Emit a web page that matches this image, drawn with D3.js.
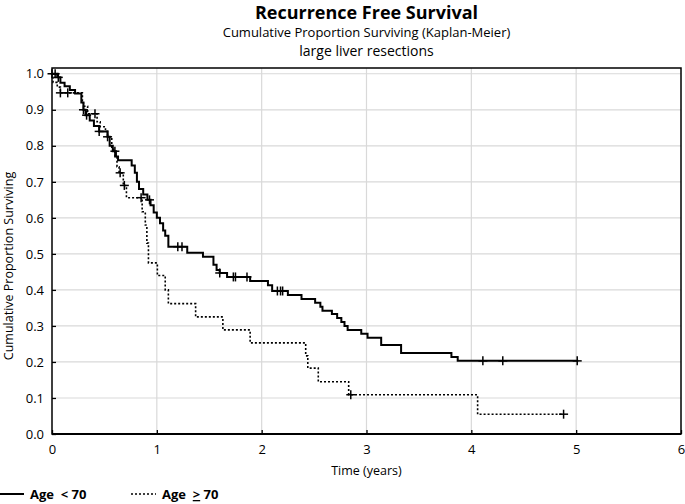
<!DOCTYPE html>
<html>
<head>
<meta charset="utf-8">
<script src="https://d3js.org/d3.v7.min.js"></script>
<style>
  body { margin: 0; background: #fff; }
  text { font-family: "Open Sans", "Noto Sans", sans-serif; fill: #000; }
</style>
</head>
<body>
<div id="chart"></div>
<script>
// Age < 70 : event times (years) and survival after each step
var youngTimes = [0, 0.05, 0.08, 0.12, 0.17, 0.22, 0.28, 0.30, 0.32, 0.36, 0.40, 0.45, 0.53, 0.55, 0.58, 0.61, 0.63,
  0.76, 0.79, 0.81, 0.83, 0.87, 0.91, 0.94, 0.97, 1.00, 1.03, 1.06, 1.08, 1.11, 1.29, 1.44, 1.54, 1.57, 1.60, 1.67,
  1.89, 2.06, 2.10, 2.25, 2.38, 2.51, 2.56, 2.58, 2.67, 2.72, 2.76, 2.79, 2.82, 2.95, 3.01, 3.14, 3.33, 3.81, 3.87, 5.02];
var youngSurv = [1.0, 0.99, 0.975, 0.965, 0.955, 0.945, 0.92, 0.90, 0.885, 0.87, 0.855, 0.84, 0.825, 0.80, 0.785, 0.77, 0.76,
  0.745, 0.725, 0.70, 0.68, 0.665, 0.65, 0.635, 0.615, 0.60, 0.585, 0.565, 0.55, 0.52, 0.503, 0.492, 0.47, 0.455, 0.447, 0.436,
  0.425, 0.413, 0.397, 0.386, 0.375, 0.364, 0.353, 0.342, 0.333, 0.322, 0.311, 0.30, 0.289, 0.278, 0.267, 0.247, 0.225, 0.214, 0.203, 0.203];
var youngCensT = [0.03, 0.06, 0.30, 0.33, 0.45, 0.53, 0.60, 0.93, 1.20, 1.24, 1.60, 1.73, 1.75, 1.86, 2.15, 2.18, 2.20, 4.11, 4.30, 5.01];

// Age >= 70
var oldTimes = [0, 0.01, 0.05, 0.08, 0.29, 0.30, 0.34, 0.43, 0.46, 0.51, 0.53, 0.57, 0.60, 0.62, 0.64, 0.68, 0.71,
  0.86, 0.89, 0.905, 0.92, 1.005, 1.08, 1.11, 1.37, 1.63, 1.89, 2.42, 2.44, 2.54, 2.83, 4.06, 4.88];
var oldSurv = [1.0, 0.976, 0.963, 0.947, 0.925, 0.91, 0.889, 0.867, 0.853, 0.84, 0.825, 0.79, 0.77, 0.742, 0.725, 0.69, 0.656,
  0.617, 0.58, 0.53, 0.475, 0.44, 0.40, 0.362, 0.325, 0.289, 0.253, 0.217, 0.183, 0.145, 0.109, 0.055, 0.055];
var oldCensT = [0.0, 0.08, 0.15, 0.41, 0.65, 0.69, 0.85, 2.85, 4.88];

var xTicks = [0, 1, 2, 3, 4, 5, 6];
var yTicks = [0, 0.1, 0.2, 0.3, 0.4, 0.5, 0.6, 0.7, 0.8, 0.9, 1.0];

var W = 685, H = 504;
var margin = {top: 68, right: 4, bottom: 70, left: 52};
var width = W - margin.left - margin.right;
var height = H - margin.top - margin.bottom;

var svg = d3.select("#chart").append("svg")
    .attr("width", W)
    .attr("height", H);

var g = svg.append("g")
    .attr("transform", "translate(" + margin.left + "," + margin.top + ")");

var x = d3.scaleLinear().domain([0, 6]).range([0, width]);
var y = d3.scaleLinear().domain([0, 1.016]).range([height, 0]);

// grid
g.selectAll(".hgrid").data(yTicks.slice(1)).enter().append("line")
    .attr("x1", 0).attr("x2", width)
    .attr("y1", function(d) { return y(d); }).attr("y2", function(d) { return y(d); })
    .attr("stroke", "#d9d9d9").attr("stroke-width", 1.2);
g.selectAll(".vgrid").data(xTicks.slice(1, -1)).enter().append("line")
    .attr("y1", 0).attr("y2", height)
    .attr("x1", function(d) { return x(d); }).attr("x2", function(d) { return x(d); })
    .attr("stroke", "#d9d9d9").attr("stroke-width", 1.2);

// axes
var xAxis = d3.axisBottom(x).tickValues(xTicks).tickSize(-4).tickPadding(11).tickFormat(d3.format("d"));
var yAxis = d3.axisLeft(y).tickValues(yTicks).tickSize(-4).tickPadding(8).tickFormat(d3.format(".1f"));

var xg = g.append("g").attr("transform", "translate(0," + height + ")").call(xAxis);
var yg = g.append("g").call(yAxis);
[xg, yg].forEach(function(a) {
    a.select(".domain").remove();
    a.selectAll("line").attr("stroke", "#000").attr("stroke-width", 1.3);
    a.selectAll("text").style("font-size", "13px").attr("fill", "#000");
});

// frame
g.append("rect")
    .attr("x", 0).attr("y", 0).attr("width", width).attr("height", height)
    .attr("fill", "none").attr("stroke", "#000").attr("stroke-width", 1.5);
g.append("line")
    .attr("x1", 0).attr("x2", width).attr("y1", height).attr("y2", height)
    .attr("stroke", "#000").attr("stroke-width", 2);

// curves
var line = d3.line()
    .x(function(d) { return x(d[0]); })
    .y(function(d) { return y(d[1]); })
    .curve(d3.curveStepAfter);

var young = d3.zip(youngTimes, youngSurv);
var old = d3.zip(oldTimes, oldSurv);

g.append("path").datum(old)
    .attr("d", line).attr("fill", "none")
    .attr("stroke", "#000").attr("stroke-width", 1.6)
    .attr("stroke-dasharray", "2,2");

g.append("path").datum(young)
    .attr("d", line).attr("fill", "none")
    .attr("stroke", "#000").attr("stroke-width", 2);

function survAt(times, surv, t) {
    var i = d3.bisectRight(times, t) - 1;
    return surv[Math.max(0, i)];
}

function drawCensors(times, surv, cens) {
    var c = g.selectAll(null).data(cens).enter().append("g")
        .attr("transform", function(t) {
            return "translate(" + x(t) + "," + y(survAt(times, surv, t)) + ")";
        });
    c.append("line").attr("x1", -4.5).attr("x2", 4.5).attr("y1", 0).attr("y2", 0)
        .attr("stroke", "#000").attr("stroke-width", 1.5);
    c.append("line").attr("x1", 0).attr("x2", 0).attr("y1", -4.5).attr("y2", 4.5)
        .attr("stroke", "#000").attr("stroke-width", 1.5);
}
drawCensors(youngTimes, youngSurv, youngCensT);
drawCensors(oldTimes, oldSurv, oldCensT);

// titles
var cx = margin.left + width / 2;
svg.append("text").attr("x", cx).attr("y", 19).attr("text-anchor", "middle")
    .style("font-size", "18px").style("font-weight", "bold")
    .text("Recurrence Free Survival");
svg.append("text").attr("x", cx).attr("y", 37).attr("text-anchor", "middle")
    .style("font-size", "13px")
    .text("Cumulative Proportion Surviving (Kaplan-Meier)");
svg.append("text").attr("x", cx).attr("y", 56).attr("text-anchor", "middle")
    .style("font-size", "14px")
    .text("large liver resections");

svg.append("text").attr("x", cx).attr("y", 475).attr("text-anchor", "middle")
    .style("font-size", "12.5px").text("Time (years)");
svg.append("text")
    .attr("transform", "translate(13,266) rotate(-90)")
    .attr("text-anchor", "middle")
    .style("font-size", "12.5px").text("Cumulative Proportion Surviving");

// legend
var ly = 494;
svg.append("line").attr("x1", 0).attr("x2", 24).attr("y1", ly).attr("y2", ly)
    .attr("stroke", "#000").attr("stroke-width", 2);
svg.append("text").attr("x", 30).attr("y", ly + 5)
    .style("font-size", "13px").style("font-weight", "bold")
    .style("white-space", "pre").attr("xml:space", "preserve")
    .text("Age  < 70");
svg.append("line").attr("x1", 131).attr("x2", 156).attr("y1", ly).attr("y2", ly)
    .attr("stroke", "#000").attr("stroke-width", 1.5).attr("stroke-dasharray", "2,2");
var t2 = svg.append("text").attr("x", 162).attr("y", ly + 5)
    .style("font-size", "13px").style("font-weight", "bold")
    .style("white-space", "pre").attr("xml:space", "preserve");
t2.append("tspan").text("Age  ");
t2.append("tspan").style("text-decoration", "underline").text(">");
t2.append("tspan").text(" 70");
</script>
</body>
</html>
